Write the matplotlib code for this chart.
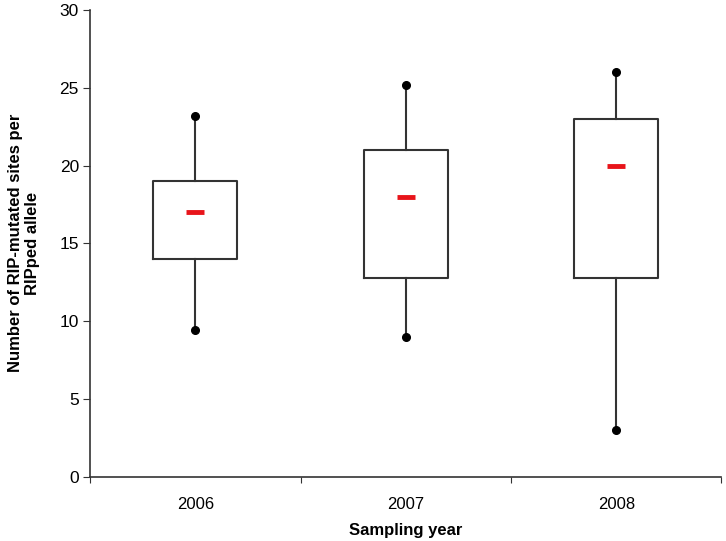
import matplotlib
matplotlib.use('Agg')
import matplotlib.pyplot as plt
import numpy as np

plt.rcParams['font.family'] = ['Liberation Sans', 'DejaVu Sans']

# data
years = ['2006', '2007', '2008']
lows = [9.4, 9.0, 3.0]
q1s = [14.0, 12.75, 12.75]
medians = [17.0, 18.0, 20.0]
q3s = [19.0, 21.0, 23.0]
highs = [23.2, 25.2, 26.0]

fig = plt.figure(figsize=(7.26, 5.41), dpi=100)
ax = fig.add_axes([0.124, 0.1192, 0.8698, 0.8623])

pos = np.arange(1, len(years) + 1)
stats = []
for lo, a, m, b, hi in zip(lows, q1s, medians, q3s, highs):
    stats.append({'whislo': lo, 'q1': a, 'med': m, 'q3': b, 'whishi': hi, 'fliers': []})

ax.bxp(stats, positions=pos, widths=0.4, showcaps=False, showfliers=False,
       boxprops=dict(color='#333333', linewidth=1.5),
       whiskerprops=dict(color='#333333', linewidth=1.5),
       medianprops=dict(visible=False))

# whisker end points
ax.plot(pos, lows, 'o', color='black', markersize=5.5, zorder=3)
ax.plot(pos, highs, 'o', color='black', markersize=5.5, zorder=3)
# medians as red dashes
ax.plot(pos, medians, '_', color='#e8141a', markersize=13, markeredgewidth=3.5, zorder=3)

ax.set_xlim(0.5, 3.5)
ax.set_ylim(0, 30)
ax.set_yticks(np.arange(0, 31, 5))
ax.set_xticks([0.5, 1.5, 2.5, 3.5])
ax.set_xticklabels([])
ax.set_xticks(pos, minor=True)
ax.set_xticklabels(years, minor=True)
ax.tick_params(axis='x', which='minor', length=0, pad=15, labelsize=12)
ax.tick_params(axis='x', which='major', length=4, direction='out', color='#333333')
ax.tick_params(axis='y', length=5, direction='out', labelsize=12.5, pad=3, color='#333333')

for s in ['top', 'right']:
    ax.spines[s].set_visible(False)
for s in ['left', 'bottom']:
    ax.spines[s].set_color('#333333')
    ax.spines[s].set_linewidth(1.2)

ax.set_xlabel('Sampling year', fontsize=12, fontweight='bold', labelpad=8)
ax.set_ylabel('Number of RIP-mutated sites per\nRIPped allele', fontsize=12,
              fontweight='bold', labelpad=14, multialignment='center')

fig.savefig('out.png', dpi=100)
